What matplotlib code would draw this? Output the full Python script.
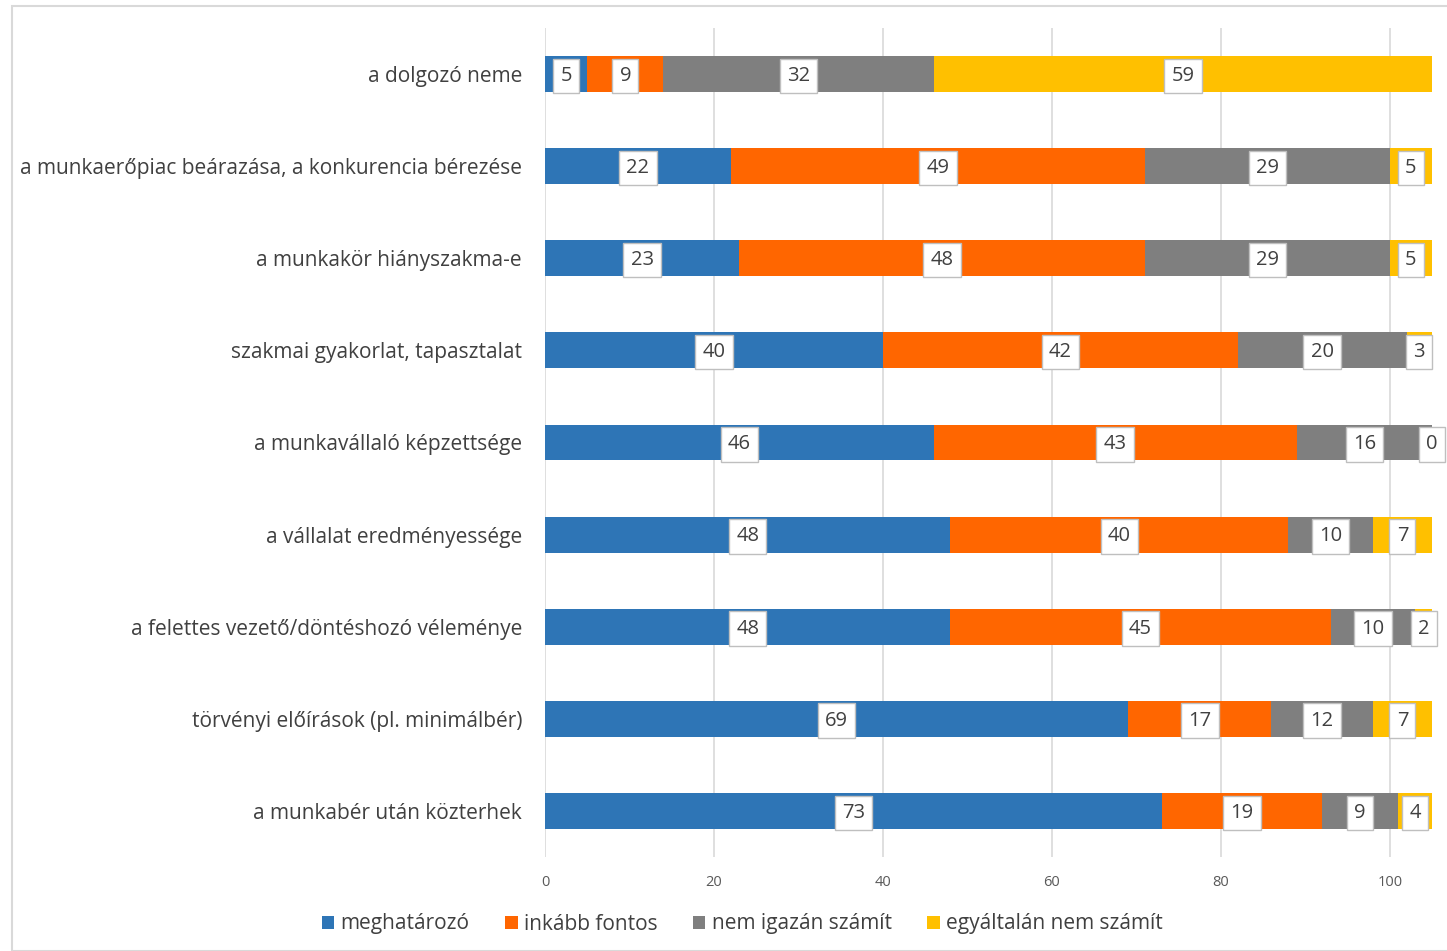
import matplotlib.pyplot as plt
import numpy as np
from matplotlib.patches import Patch, Rectangle

# categories, top to bottom as in the picture
categories = [
    'a dolgozó neme',
    'a munkaerőpiac beárazása, a konkurencia bérezése',
    'a munkakör hiányszakma-e',
    'szakmai gyakorlat, tapasztalat',
    'a munkavállaló képzettsége',
    'a vállalat eredményessége',
    'a felettes vezető/döntéshozó véleménye',
    'törvényi előírások (pl. minimálbér)',
    'a munkabér után közterhek',
]
meghatarozo = [5, 22, 23, 40, 46, 48, 48, 69, 73]
inkabb_fontos = [9, 49, 48, 42, 43, 40, 45, 17, 19]
nem_igazan = [32, 29, 29, 20, 16, 10, 10, 12, 9]
egyaltalan_nem = [59, 5, 5, 3, 0, 7, 2, 7, 4]

series_names = ['meghatározó', 'inkább fontos', 'nem igazán számít', 'egyáltalán nem számít']
series = [meghatarozo, inkabb_fontos, nem_igazan, egyaltalan_nem]
colors = ['#2E75B6', '#FF6600', '#7F7F7F', '#FFC000']

plt.rcParams['font.family'] = ['Open Sans', 'DejaVu Sans']

fig = plt.figure(figsize=(14.47, 9.51), dpi=100)
ax = fig.add_axes([545 / 1447, 1 - 857 / 951, (1432 - 545) / 1447, (857 - 28) / 951])

# light frame around the whole chart
fig.patches.append(Rectangle((12 / 1447, 0), 1.0, 1 - 6 / 951, transform=fig.transFigure,
                             fill=False, ec='#D9D9D9', lw=1.5))

y = np.arange(len(categories))
left = np.zeros(len(categories))
for name, vals, col in zip(series_names, series, colors):
    vals = np.array(vals, dtype=float)
    ax.barh(y, vals, left=left, height=0.39, color=col, label=name, zorder=2)
    for yi, l, v in zip(y, left, vals):
        ax.text(l + v / 2, yi + 0.02, f'{int(v)}', ha='center', va='center', fontsize=14.5,
                color='#404040', zorder=4,
                bbox=dict(boxstyle='square,pad=0.36', fc='white', ec='#BFBFBF', lw=1))
    left += vals

ax.set_xlim(0, 105)
ax.set_ylim(len(categories) - 0.5, -0.5)
ax.set_yticks(y)
ax.set_yticklabels(categories, fontsize=15, color='#404040')
ax.set_xticks([0, 20, 40, 60, 80, 100])
ax.tick_params(axis='x', length=0, labelsize=10.5, labelcolor='#595959', pad=13)
ax.tick_params(axis='y', length=0, pad=16.5)
ax.grid(axis='x', color='#D9D9D9', lw=1.2, zorder=0)
for s in ax.spines.values():
    s.set_visible(False)

handles = [Patch(facecolor=c, label=n) for n, c in zip(series_names, colors)]
fig.legend(handles=handles, loc='center', bbox_to_anchor=(0.513, 1 - 924 / 951), ncol=4,
           frameon=False, fontsize=15, handlelength=0.6, handleheight=0.6,
           handletextpad=0.3, columnspacing=1.7, labelcolor='#404040')

fig.savefig('out.png', dpi=100)
